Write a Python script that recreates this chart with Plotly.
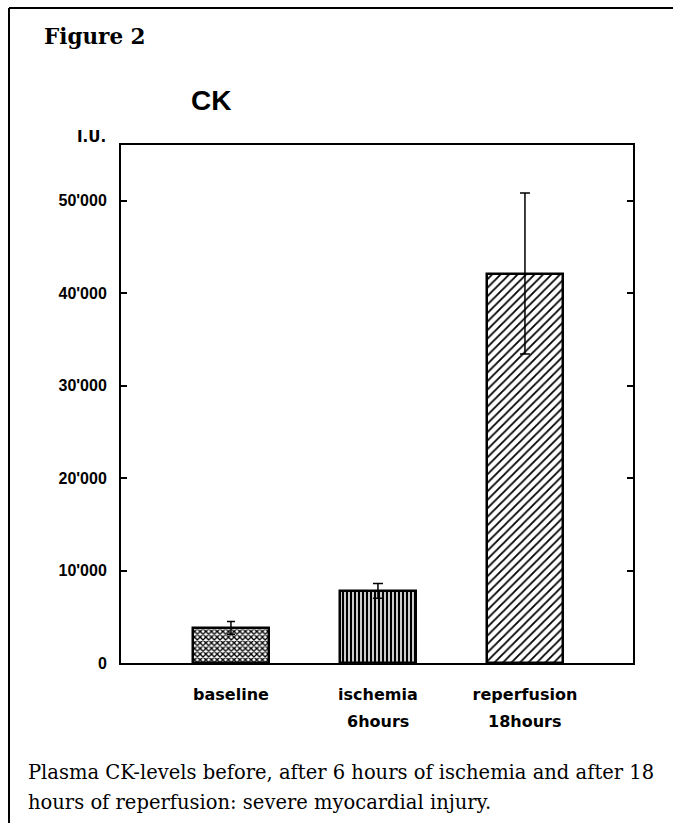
import plotly.graph_objects as go

categories = ["baseline", "ischemia", "reperfusion"]
sublabels = ["", "6hours", "18hours"]
values = [3800, 7800, 42100]
errors = [700, 800, 8700]
patterns = ["x", "|", "/"]
tick_vals = [0, 10000, 20000, 30000, 40000, 50000]
tick_text = ["0", "10'000", "20'000", "30'000", "40'000", "50'000"]

xpos = list(range(len(categories)))
pat_size = [4, 4, 6]
pat_solid = [0.55, 0.6, 0.3]
cap_w = [4, 5, 5]

# plot box in pixels
L, T, R, B = 121, 145, 633, 663
W = float(R - L)
H = float(B - T)

fig = go.Figure()
for i in xpos:
    fig.add_trace(go.Bar(
        x=[xpos[i]], y=[values[i]], width=0.52,
        marker=dict(color="white", line=dict(color="black", width=2.5),
                    pattern=dict(shape=patterns[i], fgcolor="black", bgcolor="white",
                                 fgopacity=1, size=pat_size[i], solidity=pat_solid[i])),
        error_y=dict(type="data", array=[errors[i]], visible=True, color="black",
                     thickness=1.5, width=cap_w[i]),
        showlegend=False,
    ))

fig.update_layout(
    width=673, height=823,
    margin=dict(l=L, r=673 - R, t=T, b=823 - B),
    paper_bgcolor="white", plot_bgcolor="white",
    bargap=0,
    xaxis=dict(range=[-0.748, 2.735], tickvals=xpos, ticktext=categories,
               showline=True, linecolor="black", linewidth=2, mirror=True,
               ticks="", showgrid=False, zeroline=False, ticklabelstandoff=16,
               tickfont=dict(family="DejaVu Sans", size=16, color="black", weight="bold")),
    yaxis=dict(range=[0, 56000], tickvals=tick_vals, ticktext=tick_text,
               showline=True, linecolor="black", linewidth=2, mirror="ticks",
               ticks="inside", ticklen=6, tickwidth=1.5, tickcolor="black",
               showgrid=False, zeroline=False, ticklabelstandoff=9,
               tickfont=dict(family="Liberation Sans", size=16, color="black", weight="bold")),
    font=dict(family="Liberation Sans", color="black"),
)

def px(x):
    return (x - L) / W
def py(y):
    return (B - y) / H

for i in xpos:
    if sublabels[i]:
        fig.add_annotation(text="<b>" + sublabels[i] + "</b>", x=xpos[i], xref="x",
                           y=py(722), yref="paper", xanchor="center", yanchor="middle",
                           showarrow=False,
                           font=dict(family="DejaVu Sans", size=16, color="black"))

fig.add_annotation(text="<b>Figure 2</b>", xref="paper", yref="paper", x=px(42), y=py(37),
                   xanchor="left", yanchor="middle", showarrow=False,
                   font=dict(family="DejaVu Serif", size=21.5, color="black"))
fig.add_annotation(text="CK", xref="paper", yref="paper", x=px(211), y=py(100),
                   xanchor="center", yanchor="middle", showarrow=False,
                   font=dict(family="Liberation Sans", size=28, color="black", weight="bold"))
fig.add_annotation(text="<b>I.U.</b>", xref="paper", yref="paper", x=px(108), y=py(137),
                   xanchor="right", yanchor="middle", showarrow=False,
                   font=dict(family="DejaVu Sans", size=15, color="black"))
fig.add_annotation(text="Plasma CK-levels before, after 6 hours of ischemia and after 18",
                   xref="paper", yref="paper", x=px(26), y=py(772),
                   xanchor="left", yanchor="middle", align="left", showarrow=False,
                   font=dict(family="DejaVu Serif", size=19.5, color="black"))
fig.add_annotation(text="hours of reperfusion: severe myocardial injury.",
                   xref="paper", yref="paper", x=px(26), y=py(802),
                   xanchor="left", yanchor="middle", align="left", showarrow=False,
                   font=dict(family="DejaVu Serif", size=19.5, color="black"))

# outer frame lines (left and top)
fig.add_shape(type="line", xref="paper", yref="paper", x0=px(9), x1=px(9),
              y0=py(823), y1=py(8), line=dict(color="black", width=2))
fig.add_shape(type="line", xref="paper", yref="paper", x0=px(9), x1=px(673),
              y0=py(8), y1=py(8), line=dict(color="black", width=2))

fig.write_html("out.html", config={"displayModeBar": False},
               post_script="document.body.style.margin='0px';document.body.style.overflow='hidden';")
